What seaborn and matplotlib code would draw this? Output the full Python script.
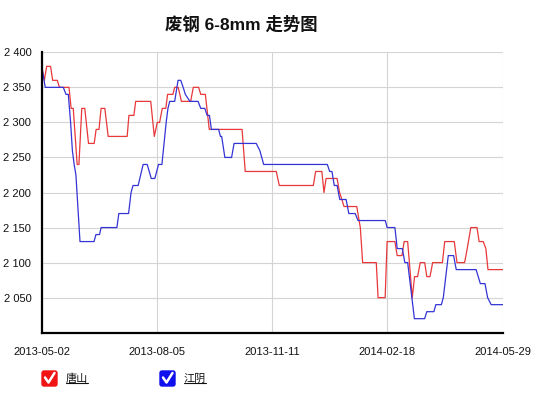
import numpy as np
import pandas as pd
import matplotlib
matplotlib.use("Agg")
import matplotlib.pyplot as plt
import seaborn as sns
from matplotlib.ticker import FuncFormatter, FixedLocator
from matplotlib.patches import FancyBboxPatch
from matplotlib.lines import Line2D
from matplotlib.transforms import IdentityTransform

# ---------------- data ----------------
title = "废钢 6-8mm 走势图"
series_names = ["唐山", "江阴"]
series_colors = ["#e8383a", "#3434d6"]
legend_colors = ["#f01414", "#1010ee"]

x_tick_pos = [0, 65, 130, 195, 260]
x_tick_labels = ["2013-05-02", "2013-08-05", "2013-11-11", "2014-02-18", "2014-05-29"]
y_ticks = [2050, 2100, 2150, 2200, 2250, 2300, 2350, 2400]
y_range = [2000, 2400]

# 唐山 (trading-day position, price)
ts_t = [0, 1.5, 2.8, 5, 6.2, 8.8, 10, 15.4, 16.6, 17.8, 20, 21, 22.6, 24.3, 26.4, 29.6,
        30.7, 32.3, 33.5, 35.6, 37.5, 48.2, 49.2, 52, 53, 61.5, 63.5, 65.2, 66.5, 68, 70,
        71, 74, 75, 77, 78.8, 84, 85.5, 88.5, 89.7, 92.3, 94.5, 113, 114.8, 132.3, 134,
        153.2, 154.5, 158, 159.2, 160.4, 166.6, 168, 169.3, 170.5, 177.7, 179, 179.7, 181,
        188.7, 189.7, 193.7, 194.8, 199.2, 200.5, 203.2, 204.4, 206.4, 209, 210.3, 212,
        213.5, 216, 217.2, 219, 220.5, 226, 227.3, 232.7, 234.2, 238.5, 240, 242, 245.5,
        246.7, 249, 250.5, 251.7, 260]
ts_price = [2380, 2360, 2380, 2380, 2360, 2360, 2350, 2350, 2320, 2320, 2240, 2240, 2320, 2320, 2270, 2270,
            2290, 2290, 2320, 2320, 2280, 2280, 2310, 2310, 2330, 2330, 2280, 2300, 2300, 2320, 2320,
            2340, 2340, 2350, 2350, 2330, 2330, 2350, 2350, 2340, 2340, 2290, 2290, 2230, 2230, 2210,
            2210, 2230, 2230, 2200, 2220, 2220, 2200, 2190, 2180, 2180, 2160, 2150, 2100,
            2100, 2050, 2050, 2130, 2130, 2110, 2110, 2130, 2130, 2050, 2080, 2080,
            2100, 2100, 2080, 2080, 2100, 2100, 2130, 2130, 2100, 2100, 2120, 2150, 2150,
            2130, 2130, 2120, 2090, 2090]

# 江阴 (trading-day position, price)
jy_t = [0, 2, 12.2, 13.7, 15, 16.3, 17.3, 18.3, 19.3, 21.6, 29.5, 30.6, 32.6, 33.5, 42.4,
        43.5, 49, 50.4, 51.5, 54.4, 57.2, 59.5, 61.8, 63.8, 65.9, 67.8, 70.2, 71.2, 72.2,
        75, 76.9, 78.4, 79.8, 81, 83.6, 88.2, 89.7, 92, 93.3, 94.6, 95.7, 99.8, 100.8,
        101.5, 103.3, 107.1, 108.5, 121, 123, 125.2, 161.1, 162.4, 163.7, 165, 166.6,
        168.1, 171.7, 173.2, 176.8, 178.4, 193.8, 194.8, 199.2, 200.5, 203.4, 204.8,
        206.4, 210.2, 216, 217.2, 221.2, 222.3, 225.4, 226.5, 229.3, 232.3, 233.8, 245,
        247.4, 250, 251.5, 253.5, 260]
jy_price = [2380, 2350, 2350, 2340, 2340, 2300, 2260, 2240, 2225, 2130, 2130, 2140, 2140, 2150, 2150,
            2170, 2170, 2200, 2210, 2210, 2240, 2240, 2220, 2220, 2240, 2240, 2300, 2320, 2330,
            2330, 2360, 2360, 2350, 2340, 2330, 2330, 2320, 2320, 2310, 2310, 2290, 2290, 2280,
            2280, 2250, 2250, 2270, 2270, 2260, 2240, 2240, 2230, 2230, 2210, 2210,
            2190, 2190, 2170, 2170, 2160, 2160, 2150, 2150, 2120, 2120, 2100,
            2100, 2020, 2020, 2030, 2030, 2040, 2040, 2050, 2110, 2110, 2090, 2090,
            2070, 2070, 2050, 2040, 2040]

df = pd.concat([
    pd.DataFrame({"t": ts_t, "price": ts_price, "city": series_names[0]}),
    pd.DataFrame({"t": jy_t, "price": jy_price, "city": series_names[1]}),
], ignore_index=True)

# ---------------- figure ----------------
sns.set_theme(style="white")
plt.rcParams["font.family"] = ["Liberation Sans", "Noto Sans CJK SC", "DejaVu Sans"]

W, H, DPI = 539, 399, 100
fig = plt.figure(figsize=(W / DPI, H / DPI), dpi=DPI)
fig.patch.set_facecolor("white")

left_px, right_px, top_px, bottom_px = 41.7, 502.7, 52.3, 332.7
ax = fig.add_axes([left_px / W, 1 - bottom_px / H,
                   (right_px - left_px) / W, (bottom_px - top_px) / H])

sns.lineplot(data=df, x="t", y="price", hue="city",
             palette=dict(zip(series_names, series_colors)),
             estimator=None, sort=False, linewidth=0.9, legend=False, ax=ax)

ax.set_xlim(x_tick_pos[0], x_tick_pos[-1])
ax.set_ylim(*y_range)
ax.xaxis.set_major_locator(FixedLocator(x_tick_pos))
ax.set_xticklabels(x_tick_labels)
ax.yaxis.set_major_locator(FixedLocator(y_ticks))
ax.yaxis.set_major_formatter(FuncFormatter(lambda v, _: f"{int(v):,}".replace(",", " ")))
ax.set_xlabel("")
ax.set_ylabel("")

ax.grid(True, color="#d4d4d4", linewidth=0.8)
ax.set_axisbelow(True)
for s in ["top", "right"]:
    ax.spines[s].set_visible(False)
for s in ["left", "bottom"]:
    ax.spines[s].set_color("black")
    ax.spines[s].set_linewidth(1.6)
ax.tick_params(axis="both", direction="out", length=4.5, width=0.9, color="black",
               labelsize=8, labelcolor="#111111")
ax.tick_params(axis="x", pad=6)
ax.tick_params(axis="y", pad=3)

# title
fig.text(241 / W, 1 - 24 / H, title, ha="center", va="center", fontsize=12.5,
         fontweight="bold", color="#111111")

# legend (checkbox style)
ident = IdentityTransform()
legend_x = [42, 160]
texts = []
for name, col, x0 in zip(series_names, legend_colors, legend_x):
    y0 = H - 386
    box = FancyBboxPatch((x0, y0), 15, 15, boxstyle="round,pad=0,rounding_size=2",
                         facecolor=col, edgecolor=col, transform=ident)
    fig.add_artist(box)
    chk = Line2D([x0 + 3, x0 + 6.5, x0 + 12.5], [y0 + 8.5, y0 + 3.5, y0 + 13],
                 color="white", linewidth=1.8, transform=ident,
                 solid_capstyle="round", solid_joinstyle="round")
    fig.add_artist(chk)
    t = fig.text(x0 + 23.5, y0 + 7.5, name, ha="left", va="center", fontsize=8,
                 color="#111111", transform=ident,
                 family=["Noto Sans CJK SC", "DejaVu Sans"])
    texts.append(t)

fig.canvas.draw()
renderer = fig.canvas.get_renderer()
for t in texts:
    bb = t.get_window_extent(renderer)
    fig.add_artist(Line2D([bb.x0, bb.x1], [bb.y0 + 0.5, bb.y0 + 0.5], color="#111111",
                          linewidth=0.8, transform=ident))

fig.savefig("out.png", dpi=DPI)
